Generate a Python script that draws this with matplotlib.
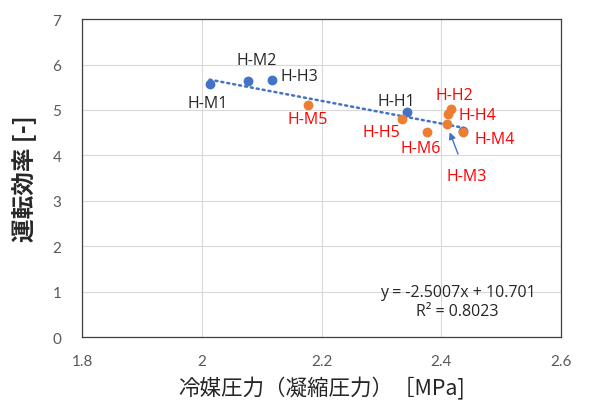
import matplotlib
matplotlib.use("Agg")
import matplotlib.pyplot as plt
import numpy as np

# ---- data ----
blue_labels = ["H-M1", "H-M2", "H-H3", "H-H1", ""]
blue_x = [2.013, 2.077, 2.118, 2.343, 2.437]
blue_y = [5.58, 5.63, 5.66, 4.95, 4.53]

orange_labels = ["H-M5", "H-H5", "H-M6", "H-H2", "H-H4", "H-M3", "H-M4"]
orange_x = [2.178, 2.334, 2.376, 2.416, 2.412, 2.409, 2.437]
orange_y = [5.10, 4.81, 4.52, 5.03, 4.90, 4.68, 4.52]

trend_slope = -2.5007
trend_intercept = 10.701
r_squared = 0.8023

x_ticks = [1.8, 2.0, 2.2, 2.4, 2.6]
x_tick_labels = ["1.8", "2", "2.2", "2.4", "2.6"]
y_ticks = [0, 1, 2, 3, 4, 5, 6, 7]

xlabel = "冷媒圧力（凝縮圧力）［MPa]"
ylabel = "運転効率 [-]"

# label offsets (pixels)
blue_offsets = [(-2, -19), (9, 21), (27, 4), (-11, 11), (0, 0)]
orange_offsets = [(-1, -14), (-20, -13), (-6, -16), (4, 14), (29, -1), (20, -52), (31, -7)]

BLUE = "#4472C4"
ORANGE = "#ED7D31"
RED = "#FF0000"
DARK = "#262626"
TICK = "#595959"

fig = plt.figure(figsize=(5.99, 4.10), dpi=100)
ax = fig.add_axes([0.137, 0.1756, 0.7996, 0.7754])

ax.set_xlim(1.8, 2.6)
ax.set_ylim(0, 7)
ax.set_xticks(x_ticks)
ax.set_xticklabels(x_tick_labels)
ax.set_yticks(y_ticks)
ax.grid(True, color="#D9D9D9", linewidth=0.8, zorder=0)
ax.tick_params(length=0, labelsize=11, labelcolor=TICK)
ax.tick_params(axis="x", pad=12)
ax.tick_params(axis="y", pad=15)
for lab in ax.get_xticklabels() + ax.get_yticklabels():
    lab.set_fontfamily(["Lato", "DejaVu Sans"])
for s in ax.spines.values():
    s.set_color("#404040")
    s.set_linewidth(0.9)

# trendline
tx = np.array([min(blue_x), max(blue_x)])
ax.plot(tx, trend_slope * tx + trend_intercept, color=BLUE, lw=1.8,
        linestyle=(0, (0.8, 1.6)), dash_capstyle="round", zorder=2)

ax.scatter(blue_x, blue_y, s=50, color=BLUE, zorder=3, linewidths=0)
ax.scatter(orange_x, orange_y, s=50, color=ORANGE, zorder=4, linewidths=0)

LFS = 11.5
for lab, x, y, off in zip(blue_labels, blue_x, blue_y, blue_offsets):
    if lab:
        ax.annotate(lab, (x, y), xytext=off, textcoords="offset pixels",
                    ha="center", va="center", fontsize=LFS, color=DARK,
                    family=["Open Sans", "DejaVu Sans"], zorder=5)

for lab, x, y, off in zip(orange_labels, orange_x, orange_y, orange_offsets):
    if lab == "H-M3":
        ax.annotate(lab, (x, y), xytext=off, textcoords="offset pixels",
                    ha="center", va="center", fontsize=LFS, color=RED,
                    family=["Open Sans", "DejaVu Sans"], zorder=5,
                    arrowprops=dict(arrowstyle="-|>", color=BLUE, lw=1.0,
                                    shrinkA=9, shrinkB=6, mutation_scale=10))
    else:
        ax.annotate(lab, (x, y), xytext=off, textcoords="offset pixels",
                    ha="center", va="center", fontsize=LFS, color=RED,
                    family=["Open Sans", "DejaVu Sans"], zorder=5)

eq = f"y = {trend_slope:.4f}x + {trend_intercept:.3f}\nR² = {r_squared:.4f}"
ax.text(2.4275, 0.78, eq, ha="center", va="center", fontsize=11.5, color=DARK,
        family=["Open Sans", "DejaVu Sans"], linespacing=1.25, zorder=5)

ax.set_xlabel(xlabel, fontsize=15.5, color=DARK,
              family=["Noto Sans CJK JP", "DejaVu Sans"], labelpad=6)
ax.set_ylabel(ylabel, fontsize=17, color=DARK, fontweight="bold",
              family=["Noto Sans CJK JP", "DejaVu Sans"], labelpad=11)

fig.savefig("out.png", dpi=100)
